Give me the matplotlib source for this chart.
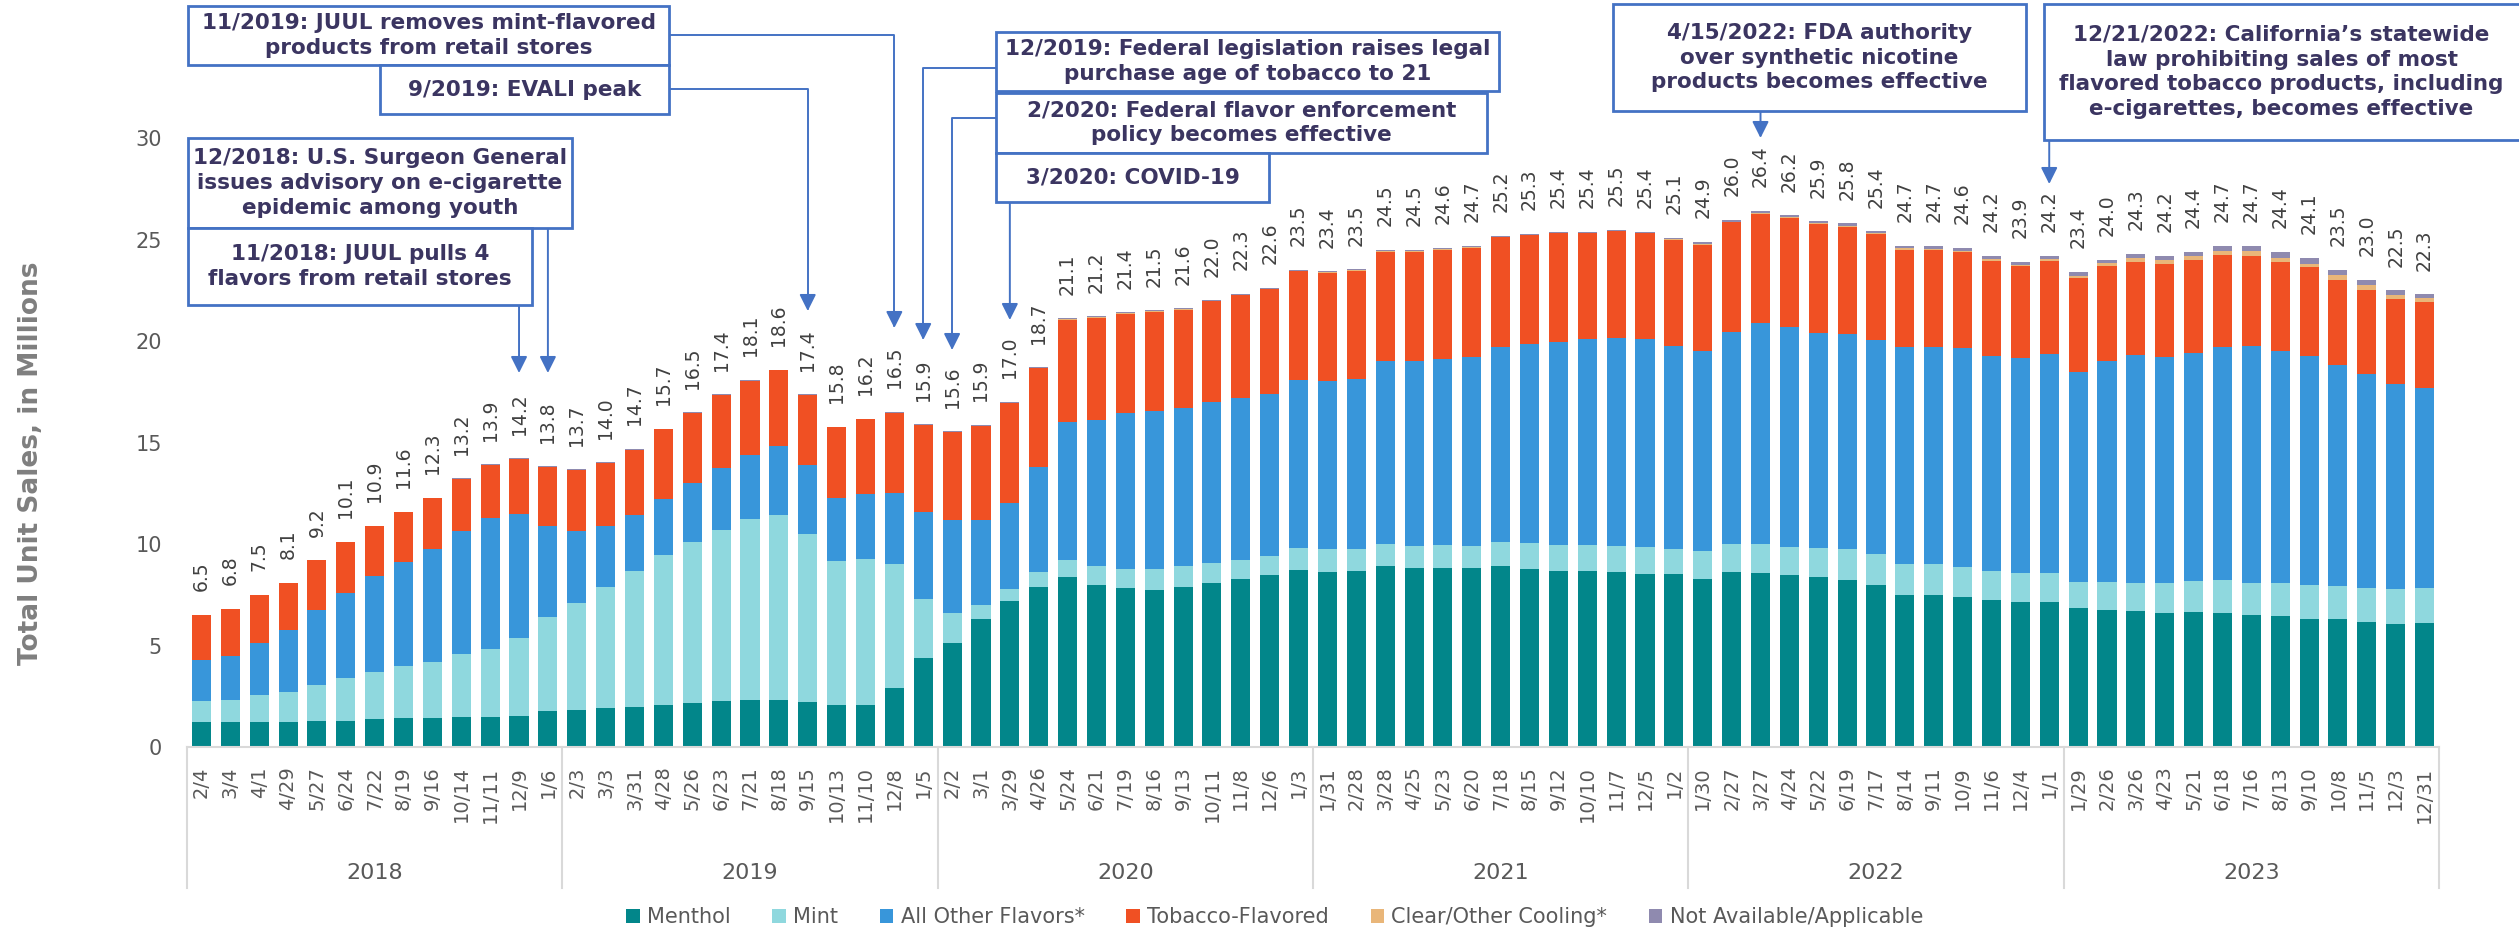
import numpy as np
import matplotlib
matplotlib.use("Agg")
import matplotlib.pyplot as plt
from matplotlib.patches import Rectangle
import matplotlib.transforms as mtransforms

# ---- data (millions of units, 4-week periods ending on the given date) ----
years = ["2018", "2019", "2020", "2021", "2022", "2023"]
weeks = [
    "2/4", "3/4", "4/1", "4/29", "5/27", "6/24", "7/22", "8/19", "9/16", "10/14", "11/11", "12/9", "1/6",
    "2/3", "3/3", "3/31", "4/28", "5/26", "6/23", "7/21", "8/18", "9/15", "10/13", "11/10", "12/8", "1/5",
    "2/2", "3/1", "3/29", "4/26", "5/24", "6/21", "7/19", "8/16", "9/13", "10/11", "11/8", "12/6", "1/3",
    "1/31", "2/28", "3/28", "4/25", "5/23", "6/20", "7/18", "8/15", "9/12", "10/10", "11/7", "12/5", "1/2",
    "1/30", "2/27", "3/27", "4/24", "5/22", "6/19", "7/17", "8/14", "9/11", "10/9", "11/6", "12/4", "1/1",
    "1/29", "2/26", "3/26", "4/23", "5/21", "6/18", "7/16", "8/13", "9/10", "10/8", "11/5", "12/3", "12/31",
]
totals = [
    6.5, 6.8, 7.5, 8.1, 9.2, 10.1, 10.9, 11.6, 12.3, 13.2, 13.9, 14.2, 13.8,
    13.7, 14.0, 14.7, 15.7, 16.5, 17.4, 18.1, 18.6, 17.4, 15.8, 16.2, 16.5, 15.9,
    15.6, 15.9, 17.0, 18.7, 21.1, 21.2, 21.4, 21.5, 21.6, 22.0, 22.3, 22.6, 23.5,
    23.4, 23.5, 24.5, 24.5, 24.6, 24.7, 25.2, 25.3, 25.4, 25.4, 25.5, 25.4, 25.1,
    24.9, 26.0, 26.4, 26.2, 25.9, 25.8, 25.4, 24.7, 24.7, 24.6, 24.2, 23.9, 24.2,
    23.4, 24.0, 24.3, 24.2, 24.4, 24.7, 24.7, 24.4, 24.1, 23.5, 23.0, 22.5, 22.3,
]
menthol = [
    1.25, 1.25, 1.25, 1.25, 1.3, 1.3, 1.4, 1.45, 1.45, 1.5, 1.5, 1.55, 1.75,
    1.8, 1.9, 1.95, 2.05, 2.15, 2.25, 2.3, 2.3, 2.2, 2.05, 2.05, 2.9, 4.4,
    5.1, 6.3, 7.2, 7.9, 8.35, 8.0, 7.85, 7.75, 7.9, 8.1, 8.3, 8.45, 8.7,
    8.6, 8.65, 8.9, 8.8, 8.8, 8.8, 8.9, 8.75, 8.65, 8.65, 8.6, 8.5, 8.5,
    8.3, 8.6, 8.55, 8.45, 8.35, 8.25, 8.0, 7.5, 7.5, 7.4, 7.25, 7.15, 7.15,
    6.85, 6.75, 6.7, 6.6, 6.65, 6.6, 6.5, 6.45, 6.3, 6.3, 6.15, 6.05, 6.1,
]
mint = [
    1.0, 1.05, 1.3, 1.45, 1.75, 2.1, 2.3, 2.55, 2.75, 3.1, 3.35, 3.8, 4.65,
    5.3, 6.0, 6.7, 7.4, 7.95, 8.45, 8.95, 9.15, 8.3, 7.1, 7.2, 6.1, 2.9,
    1.5, 0.7, 0.6, 0.7, 0.85, 0.9, 0.9, 1.0, 1.0, 0.95, 0.9, 0.95, 1.1,
    1.15, 1.1, 1.1, 1.1, 1.15, 1.1, 1.2, 1.3, 1.3, 1.3, 1.3, 1.35, 1.25,
    1.35, 1.4, 1.45, 1.4, 1.45, 1.5, 1.5, 1.5, 1.5, 1.45, 1.4, 1.4, 1.4,
    1.3, 1.4, 1.4, 1.5, 1.55, 1.65, 1.6, 1.65, 1.7, 1.65, 1.7, 1.75, 1.75,
]
other = [
    2.05, 2.2, 2.55, 3.05, 3.7, 4.2, 4.7, 5.1, 5.55, 6.05, 6.45, 6.15, 4.5,
    3.55, 3.0, 2.8, 2.75, 2.9, 3.05, 3.15, 3.4, 3.4, 3.1, 3.2, 3.5, 4.3,
    4.6, 4.2, 4.2, 5.2, 6.8, 7.2, 7.7, 7.8, 7.8, 7.95, 8.0, 8.0, 8.3,
    8.3, 8.4, 9.0, 9.1, 9.15, 9.3, 9.6, 9.8, 10.0, 10.15, 10.25, 10.25, 10.0,
    9.85, 10.45, 10.9, 10.85, 10.6, 10.6, 10.55, 10.7, 10.7, 10.8, 10.6, 10.6, 10.8,
    10.3, 10.85, 11.2, 11.1, 11.2, 11.45, 11.65, 11.4, 11.25, 10.85, 10.5, 10.1, 9.85,
]
tobacco = [
    2.2, 2.3, 2.4, 2.35, 2.45, 2.5, 2.5, 2.5, 2.5, 2.55, 2.6, 2.7, 2.9,
    3.0, 3.1, 3.2, 3.45, 3.45, 3.6, 3.65, 3.7, 3.45, 3.5, 3.7, 3.95, 4.25,
    4.3, 4.6, 4.95, 4.85, 5.05, 5.05, 4.9, 4.9, 4.85, 4.95, 5.05, 5.15, 5.35,
    5.3, 5.3, 5.4, 5.4, 5.4, 5.4, 5.4, 5.35, 5.35, 5.2, 5.25, 5.2, 5.25,
    5.25, 5.4, 5.35, 5.35, 5.35, 5.25, 5.2, 4.8, 4.8, 4.75, 4.7, 4.55, 4.6,
    4.65, 4.7, 4.6, 4.6, 4.6, 4.55, 4.45, 4.4, 4.4, 4.2, 4.15, 4.15, 4.2,
]
clear = [
    0, 0, 0, 0, 0, 0, 0, 0, 0, 0, 0, 0, 0,
    0, 0, 0, 0, 0, 0, 0, 0, 0, 0, 0, 0.02, 0.02,
    0.02, 0.02, 0.02, 0.02, 0.02, 0.02, 0.02, 0.02, 0.02, 0.02, 0.02, 0.02, 0.02,
    0.03, 0.03, 0.03, 0.03, 0.03, 0.03, 0.03, 0.03, 0.03, 0.03, 0.03, 0.03, 0.03,
    0.03, 0.03, 0.05, 0.05, 0.05, 0.05, 0.05, 0.07, 0.05, 0.05, 0.1, 0.05, 0.1,
    0.1, 0.15, 0.2, 0.2, 0.2, 0.2, 0.25, 0.2, 0.15, 0.25, 0.25, 0.2, 0.2,
]
not_avail = [
    0, 0, 0, 0, 0, 0, 0, 0, 0.03, 0.03, 0.03, 0.03, 0.03,
    0.03, 0.03, 0.03, 0.03, 0.03, 0.03, 0.03, 0.03, 0.03, 0.03, 0.03, 0.03, 0.03,
    0.04, 0.04, 0.04, 0.04, 0.04, 0.04, 0.04, 0.04, 0.04, 0.04, 0.04, 0.04, 0.04,
    0.05, 0.05, 0.05, 0.05, 0.05, 0.05, 0.05, 0.05, 0.05, 0.05, 0.05, 0.05, 0.05,
    0.1, 0.1, 0.1, 0.1, 0.1, 0.15, 0.1, 0.13, 0.15, 0.15, 0.15, 0.15, 0.15,
    0.2, 0.15, 0.2, 0.2, 0.2, 0.25, 0.25, 0.3, 0.3, 0.25, 0.25, 0.25, 0.2,
]
series_names = ["Menthol", "Mint", "All Other Flavors*", "Tobacco-Flavored",
                "Clear/Other Cooling*", "Not Available/Applicable"]
series_colors = ["#02868A", "#8FD8DE", "#3896DA", "#F05023", "#E9B679", "#8F8AAF"]

# events: (text, bar index the arrow points to)
events = [
    ("11/2019: JUUL removes mint-flavored\nproducts from retail stores", 24),
    ("9/2019: EVALI peak", 21),
    ("12/2018: U.S. Surgeon General\nissues advisory on e-cigarette\nepidemic among youth", 12),
    ("11/2018: JUUL pulls 4\nflavors from retail stores", 11),
    ("12/2019: Federal legislation raises legal\npurchase age of tobacco to 21", 25),
    ("2/2020: Federal flavor enforcement\npolicy becomes effective", 26),
    ("3/2020: COVID-19", 28),
    ("4/15/2022: FDA authority\nover synthetic nicotine\nproducts becomes effective", 54),
    ("12/21/2022: California\u2019s statewide\nlaw prohibiting sales of most\nflavored tobacco products, including\ne-cigarettes, becomes effective", 64),
]

W, H = 2519, 930
fig = plt.figure(figsize=(W / 100, H / 100), dpi=100)
ax = fig.add_axes([187 / W, 1 - 747 / H, 2252 / W, 609 / H])

x = np.arange(len(totals))
bottom = np.zeros(len(x))
for vals, name, col in zip([menthol, mint, other, tobacco, clear, not_avail],
                           series_names, series_colors):
    ax.bar(x, vals, width=0.66, bottom=bottom, color=col, label=name, linewidth=0)
    bottom += np.array(vals)

for xi, top, t in zip(x, bottom, totals):
    ax.annotate(f"{t:.1f}", (xi, top), xytext=(0, 17), textcoords="offset points",
                rotation=90, ha="center", va="bottom", fontsize=13.5, color="#404040")

ax.set_xlim(-0.5, len(x) - 0.5)
ax.set_ylim(0, 30)
ax.set_xticks(x)
ax.set_xticklabels(weeks, rotation=90, fontsize=14, color="#595959")
ax.set_yticks(range(0, 31, 5))
ax.tick_params(axis="x", length=0, pad=14)
ax.tick_params(axis="y", length=0, pad=18, labelcolor="#595959", labelsize=15)
for s in ["top", "right", "left"]:
    ax.spines[s].set_visible(False)
ax.spines["bottom"].set_color("#D9D9D9")
ax.spines["bottom"].set_linewidth(1.5)

# year groups under the date labels
blend = mtransforms.blended_transform_factory(ax.transData, ax.transAxes)
for g, yr in enumerate(years):
    ax.text(13 * g + 6, -0.207, yr, transform=blend, ha="center", va="center",
            fontsize=16, color="#595959")
for g in range(len(years) + 1):
    ax.plot([13 * g - 0.5] * 2, [0, -0.2315], transform=blend, color="#D9D9D9",
            lw=1.5, clip_on=False)

fig.text(31 / W, 1 - 463 / H, "Total Unit Sales, in Millions", rotation=90,
         fontsize=19, fontweight="bold", color="#7F7F7F", ha="center", va="center")

fig.legend(loc="center", bbox_to_anchor=(0.506, 0.014), ncol=6, frameon=False,
           handlelength=0.65, handleheight=0.65, handletextpad=0.35, columnspacing=2.0,
           fontsize=15, labelcolor="#595959")

# ---- event boxes and arrows (positions in figure pixels) ----
box_pos = [
    (188, 6, 669, 65), (380, 65, 669, 114), (188, 138, 572, 228), (188, 228, 532, 305),
    (996, 32, 1499, 91), (996, 93, 1487, 153), (996, 153, 1269, 202),
    (1613, 4, 2026, 111), (2044, 4, 2535, 140),
]
# arrow start: elbow from a box side, or straight down from the box bottom
arrow_start = [
    ("side", 669, 35), ("side", 669, 89), ("down", None, 228), ("down", None, 305),
    ("side", 996, 68), ("side", 996, 118), ("down", None, 202),
    ("down", None, 111), ("down", None, 140),
]
arrow_tip = [328, 311, 373, 373, 340, 350, 320, 138, 184]

edge = "#4472C4"
for (txt, bar), (x0, y0, x1, y1), (kind, sx, sy), tip in zip(events, box_pos, arrow_start, arrow_tip):
    fig.patches.append(Rectangle((x0 / W, 1 - y1 / H), (x1 - x0) / W, (y1 - y0) / H,
                                 transform=fig.transFigure, facecolor="white",
                                 edgecolor=edge, lw=2, zorder=3))
    fig.text((x0 + min(x1, W)) / 2 / W, 1 - (y0 + y1) / 2 / H, txt, ha="center", va="center",
             fontsize=15.5, fontweight="bold", color="#3B3561", linespacing=1.3, zorder=4)
    props = dict(arrowstyle="-|>,head_length=0.5,head_width=0.25", color=edge, lw=1.4,
                 shrinkA=0, shrinkB=0, mutation_scale=20)
    if kind == "side":
        props["connectionstyle"] = "angle,angleA=0,angleB=90,rad=0"
        ax.annotate("", xy=(bar, 1 - tip / H), xycoords=("data", "figure fraction"),
                    xytext=(sx / W, 1 - sy / H), textcoords="figure fraction",
                    arrowprops=props, annotation_clip=False)
    else:
        ax.annotate("", xy=(bar, 1 - tip / H), xycoords=("data", "figure fraction"),
                    xytext=(bar, 1 - sy / H), textcoords=("data", "figure fraction"),
                    arrowprops=props, annotation_clip=False)

fig.savefig("out.png", dpi=100)
